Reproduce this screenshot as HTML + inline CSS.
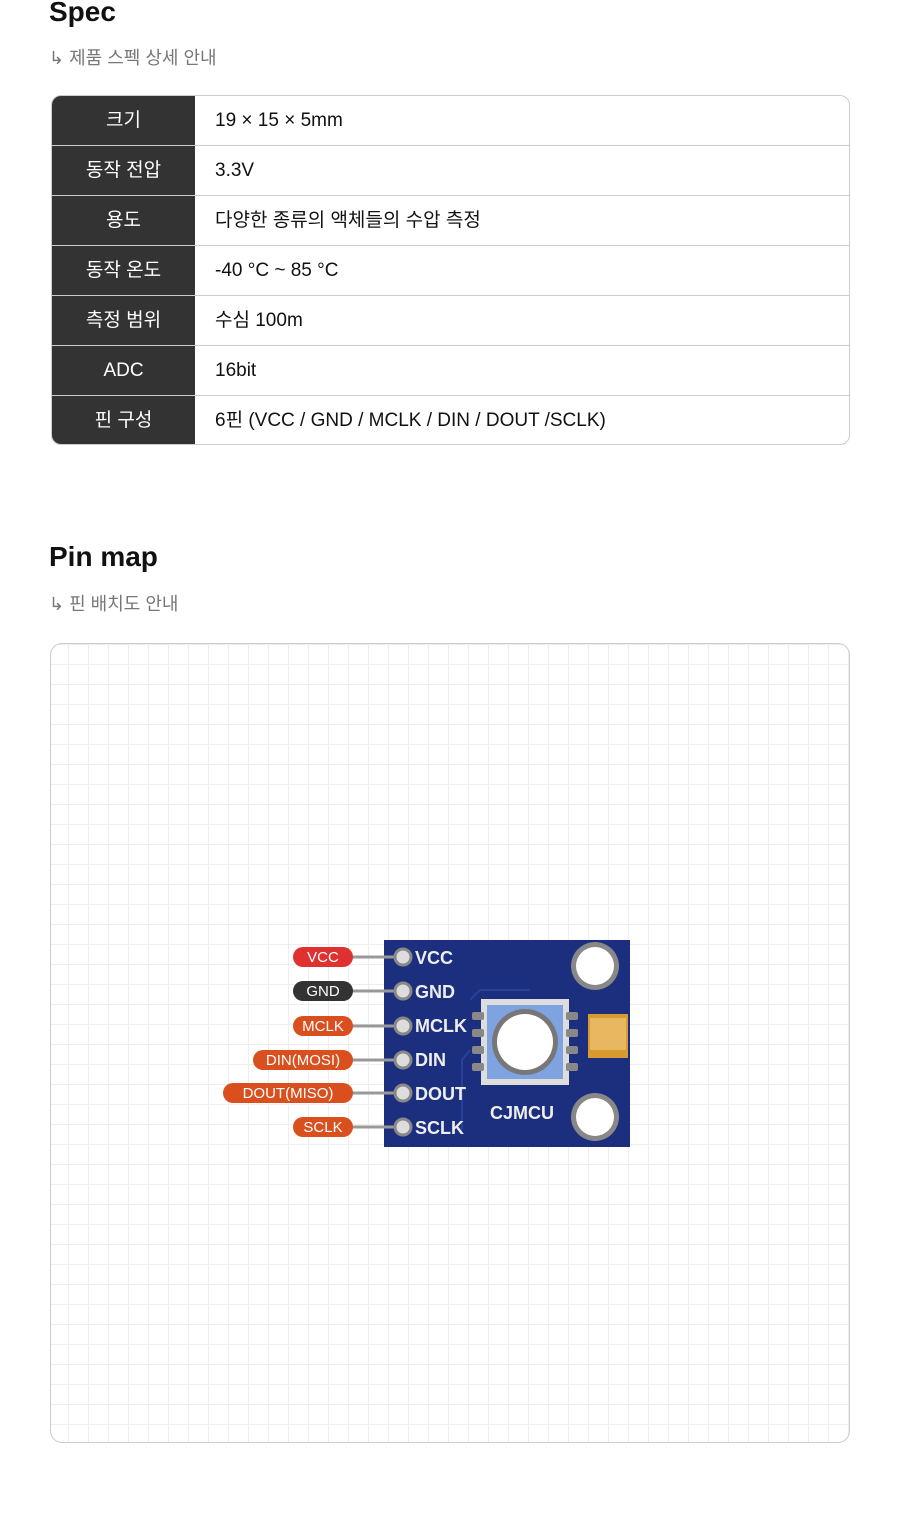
<!DOCTYPE html>
<html><head><meta charset="utf-8"><style>
body{margin:0;width:900px;height:1540px;background:#fff;font-family:"Liberation Sans","Noto Sans CJK KR",sans-serif;position:relative;overflow:hidden}
h2{position:absolute;left:49px;margin:0;font-size:28px;font-weight:bold;color:#111}
.sub{position:absolute;left:49px;font-size:18px;color:#777}
.tbl{position:absolute;left:51px;top:95px;width:797px;height:348px;border:1px solid #ccc;border-radius:10px;overflow:hidden}
.row{position:absolute;left:0;width:797px;height:49px;border-bottom:1px solid #ccc;font-size:19px;line-height:49px}
.row:last-child{border-bottom:none}
.k{position:absolute;left:0;top:0;width:143px;height:49px;background:#333;color:#fff;text-align:center}
.v{position:absolute;left:163px;top:0;color:#111}
.grid{position:absolute;left:50px;top:643px;width:798px;height:798px;border:1px solid #ccc;border-radius:12px;
background-image:repeating-linear-gradient(90deg,transparent 0 17px,#eeeeee 17px 18px,transparent 18px 20px),repeating-linear-gradient(0deg,transparent 0 17px,#eeeeee 17px 18px,transparent 18px 20px);}
</style></head><body>
<h2 style="top:-4px">Spec</h2>
<div class="sub" style="top:44px">↳ 제품 스펙 상세 안내</div>
<div class="tbl">
<div class="row" style="top:0"><div class="k">크기</div><div class="v">19 × 15 × 5mm</div></div>
<div class="row" style="top:50px"><div class="k">동작 전압</div><div class="v">3.3V</div></div>
<div class="row" style="top:100px"><div class="k">용도</div><div class="v">다양한 종류의 액체들의 수압 측정</div></div>
<div class="row" style="top:150px"><div class="k">동작 온도</div><div class="v">-40 °C ~ 85 °C</div></div>
<div class="row" style="top:200px"><div class="k">측정 범위</div><div class="v">수심 100m</div></div>
<div class="row" style="top:250px"><div class="k">ADC</div><div class="v">16bit</div></div>
<div class="row" style="top:300px;border-bottom:none"><div class="k">핀 구성</div><div class="v">6핀 (VCC / GND / MCLK / DIN / DOUT /SCLK)</div></div>
</div>
<h2 style="top:541px">Pin map</h2>
<div class="sub" style="top:590px">↳ 핀 배치도 안내</div>
<div class="grid"></div>
<svg style="position:absolute;left:0;top:0" width="900" height="1540">
<rect x="384" y="940" width="246" height="207" fill="#1c2f7e"/>
<g fill="none" stroke="#2a3f96" stroke-width="2"><path d="M470 1000 L480 990 L530 990"/><path d="M470 1050 L462 1060 L462 1130"/></g>
<circle cx="595" cy="966" r="24" fill="#888"/><circle cx="595" cy="966" r="19" fill="#fff"/>
<circle cx="595" cy="1117" r="24" fill="#888"/><circle cx="595" cy="1117" r="19" fill="#fff"/>
<rect x="481" y="999" width="88" height="86" fill="#ddd"/><rect x="487" y="1005" width="76" height="74" fill="#7fa2e0"/>
<g fill="#888"><rect x="472" y="1012" width="12" height="8" rx="2"/><rect x="472" y="1029" width="12" height="8" rx="2"/><rect x="472" y="1046" width="12" height="8" rx="2"/><rect x="472" y="1063" width="12" height="8" rx="2"/><rect x="566" y="1012" width="12" height="8" rx="2"/><rect x="566" y="1029" width="12" height="8" rx="2"/><rect x="566" y="1046" width="12" height="8" rx="2"/><rect x="566" y="1063" width="12" height="8" rx="2"/></g>
<circle cx="525" cy="1042" r="33" fill="#777"/><circle cx="525" cy="1042" r="28" fill="#fff"/>
<rect x="588" y="1014" width="40" height="44" fill="#d99a30"/><rect x="590" y="1018" width="36" height="32" fill="#e8b860"/>
<text x="490" y="1119" font-family="Liberation Sans" font-weight="bold" font-size="18" fill="#eee">CJMCU</text>
<g font-family="Liberation Sans" font-weight="bold" font-size="18" fill="#eee">
<text x="415" y="964">VCC</text><text x="415" y="998">GND</text><text x="415" y="1032">MCLK</text><text x="415" y="1066">DIN</text><text x="415" y="1100">DOUT</text><text x="415" y="1134">SCLK</text></g>
<g stroke="#999" stroke-width="3"><line x1="352" y1="957" x2="402" y2="957"/><line x1="352" y1="991" x2="402" y2="991"/><line x1="352" y1="1026" x2="402" y2="1026"/><line x1="352" y1="1060" x2="402" y2="1060"/><line x1="352" y1="1093" x2="402" y2="1093"/><line x1="352" y1="1127" x2="402" y2="1127"/></g>
<g fill="#ddd" stroke="#888" stroke-width="3"><circle cx="403" cy="957" r="8"/><circle cx="403" cy="991" r="8"/><circle cx="403" cy="1026" r="8"/><circle cx="403" cy="1060" r="8"/><circle cx="403" cy="1093" r="8"/><circle cx="403" cy="1127" r="8"/></g>
<rect x="293" y="947" width="60" height="20" rx="10" fill="#e03131"/>
<rect x="293" y="981" width="60" height="20" rx="10" fill="#333"/>
<g fill="#d9501e"><rect x="293" y="1016" width="60" height="20" rx="10"/><rect x="253" y="1050" width="100" height="20" rx="10"/><rect x="223" y="1083" width="130" height="20" rx="10"/><rect x="293" y="1117" width="60" height="20" rx="10"/></g>
<g font-family="Liberation Sans" font-size="15" fill="#fff" text-anchor="middle">
<text x="323" y="962">VCC</text><text x="323" y="996">GND</text><text x="323" y="1031">MCLK</text><text x="303" y="1065">DIN(MOSI)</text><text x="288" y="1098">DOUT(MISO)</text><text x="323" y="1132">SCLK</text></g>
</svg>
</body></html>
